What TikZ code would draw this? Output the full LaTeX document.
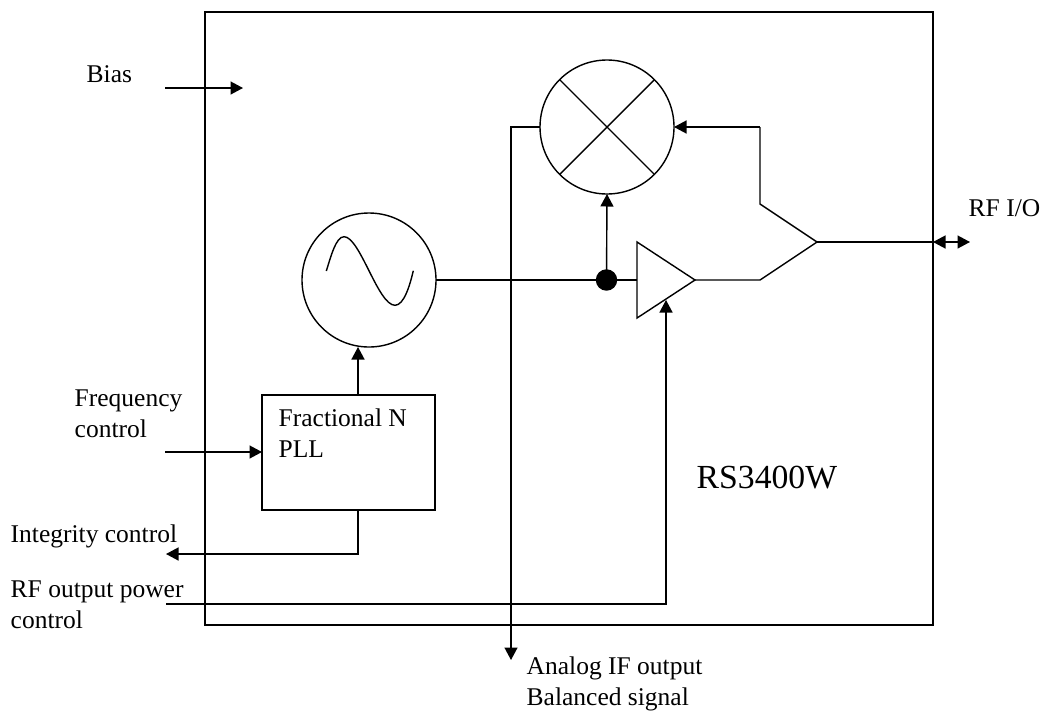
\documentclass[tikz,border=0pt]{standalone}
\usepackage{fontspec}
\setmainfont{Liberation Serif}
\usepackage{tikz}
\usetikzlibrary{positioning, arrows.meta, shapes.geometric}

\begin{document}
\begin{tikzpicture}[x=1pt, y=-1pt, >={Triangle[length=12.5pt,width=13pt]}, line width=1.4pt,
    every node/.style={font=\fontsize{25.5}{30.5}\selectfont},
    lbl/.style={align=left, inner sep=0pt, anchor=base west},
    block/.style={draw, circle, minimum size=134pt, inner sep=0pt, outer sep=0pt}]
    \useasboundingbox (0,0) rectangle (1040,710);

    \node[draw, minimum width=728pt, minimum height=613pt, inner sep=0pt, outer sep=0pt] (chip) at (569,318.5) {};
    \node[block] (mixer) at (607,127) {};
    \node[block] (osc)   at (369,280) {};
    \node[draw, circle, fill=black, minimum size=20pt, inner sep=0pt, outer sep=0pt] (dot) at (606.5,280) {};
    \node[draw, isosceles triangle, isosceles triangle apex angle=66.5, minimum height=58pt, inner sep=0pt, outer sep=0pt,
          anchor=lower side] (amp) at (637,280) {};
    \node[draw, minimum width=173pt, minimum height=115pt, inner sep=0pt, outer sep=0pt] (pll) at (348.5,452.5) {};

    \coordinate (biasin)  at (165,88);
    \coordinate (biasend) at (243,88);
    \coordinate (freqin)  at (165,452);
    \coordinate (pllup)   at (358,395);
    \coordinate (pllout)  at (358,510);
    \coordinate (intend)  at (358,554);
    \coordinate (intout)  at (166,554);
    \coordinate (pwrin)   at (166,604);
    \coordinate (pwrturn) at (666,604);
    \coordinate (ampin)   at (666,300);
    \coordinate (ifturn)  at (511,127);
    \coordinate (ifout)   at (511,660);
    \coordinate (comtop)  at (760,204);
    \coordinate (comlow)  at (760,280);
    \coordinate (comout)  at (817,242);
    \coordinate (fbturn)  at (760,127);
    \coordinate (rfedge)  at (933,242);
    \coordinate (rfend)   at (970,242);

    \draw (mixer.45) -- (mixer.225);
    \draw (mixer.135) -- (mixer.315);
    \draw (326.3,271) .. controls (331,256) and (336,236.7) .. (344,236.7)
          .. controls (360,236.7) and (378,305.3) .. (395,305.3)
          .. controls (404,305.3) and (410,285) .. (413.3,270.7);

    \draw[->] (biasin) -- (biasend);
    \draw[->] (freqin) -- (freqin -| pll.west);
    \draw[->] (pllup) -- (pllup |- osc.south);
    \draw[->] (pllout) -- (intend) -- (intout);
    \draw[->] (pwrin) -- (pwrturn) -- (ampin);
    \draw[->] (mixer.west) -- (ifturn) -- (ifout);
    \draw (osc.east) -- (dot) -- (amp.lower side);
    \draw[->] (dot) -- (mixer.south);
    \draw (amp.apex) -- (comlow) -- (comout) -- (comtop) -- (fbturn);
    \draw[->] (fbturn) -- (mixer.east);
    \draw (comout) -- (rfedge);
    \draw[<->] (rfedge) -- (rfend);

    \node[lbl] (bias)   at (86,82)   {Bias};
    \node[lbl] (freq)   at (74,437)  {Frequency\\control};
    \node[lbl] (frac)   at (278,457) {Fractional N\\PLL};
    \node[lbl] (integ)  at (10,542)  {Integrity control};
    \node[lbl] (power)  at (10,628)  {RF output power\\control};
    \node[lbl] (analog) at (526,705) {Analog IF output\\Balanced signal};
    \node[lbl] (rfio)   at (968,216) {RF I/O};
    \node[lbl, font=\fontsize{33.7}{40}\selectfont] (part) at (696,488) {RS3400W};
\end{tikzpicture}
\end{document}
